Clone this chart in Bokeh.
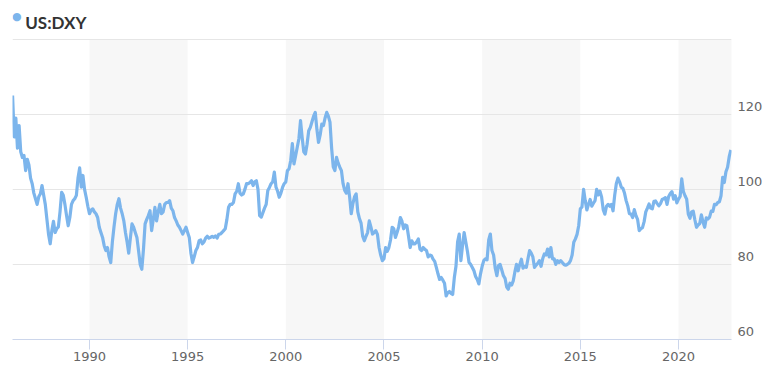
import pandas as pd
from bokeh.plotting import figure
from bokeh.models import FixedTicker, Label, Range1d, LinearAxis
from bokeh.embed import file_html
from bokeh.resources import INLINE

# ---- data (monthly US Dollar Index) ----
first_month = "1986-02-01"
dxy_1980s = [
    125, 114, 119, 111, 117, 110, 108.5, 109, 105, 108, 106.5,
    103, 101.5, 99, 97.5, 96, 98, 98.8, 101, 98.5, 96, 92, 88,
    85.5, 89, 91.5, 88.5, 89.5, 90, 94, 99.2, 98.4, 96, 93, 90.3,
    92.5, 96, 97, 97.5, 98.4, 103, 105.7, 100.6, 103.7, 100, 97.9, 95.5,
]
dxy_1990s = [
    93.5, 94.5, 94.8, 94, 93.5, 92.5, 89.9, 88.5, 87.2, 85, 83.7, 84.5,
    82, 80.5, 86, 90, 93.5, 96, 97.5, 95, 93.5, 91.6, 88.5, 86,
    83, 87, 90.8, 89.9, 88.5, 87.2, 83.7, 80, 78.7, 84, 90.8, 92,
    93, 94.3, 89, 92, 95.2, 91.6, 94, 96, 93.5, 94, 96, 96.5,
    96.5, 97, 95, 94.3, 92.5, 91.6, 90.5, 89.9, 89, 88.1, 89, 89.9,
    88.5, 87.2, 83, 80.5, 82, 83.7, 84.5, 86.3, 86.5, 85.5, 86, 87,
    87.5, 87, 87.2, 87.5, 87.2, 87.6, 87, 88, 88.1, 88.5, 89, 89.5,
    92, 95.2, 96, 96, 96.5, 98.8, 99.5, 101.5, 99, 98.5, 98.8, 100,
    101.5, 101.5, 101.8, 102.3, 101, 102, 102.3, 100, 93, 92.6, 93.8, 95,
    96, 99.7, 100.5, 101.5, 102, 104.6, 100.6, 99.5, 97.9, 99, 100.5, 101.5,
]
dxy_2000s = [
    102, 105, 105.5, 107.7, 112.2, 106.8, 109, 111.2, 113.5, 118.3, 113.8, 110,
    109.4, 112, 115.6, 116.5, 118, 119.5, 120.5, 116, 112.5, 114.5, 117.4, 117,
    119, 120.5, 119.5, 117.9, 111, 106, 105, 108.5, 107, 105.9, 105, 101.5,
    99.7, 99, 101.5, 98, 93.5, 96.2, 98, 98.8, 94, 92.2, 91, 87.5,
    86.3, 87.5, 88.5, 91.6, 90, 88.1, 88.5, 89, 88, 84.5, 82.5, 81,
    81.5, 84.5, 83.5, 84.5, 86.5, 89.9, 89.5, 87.2, 88.5, 90, 92.5, 91.5,
    89.5, 90.5, 90.3, 87.5, 84.5, 86.3, 85.5, 85.5, 86, 86.8, 84.1, 83.7,
    84.5, 84, 83.7, 82, 82.5, 82.3, 81.4, 80.8, 79.2, 77.5, 76, 76.5,
    75.8, 75, 71.6, 72.5, 72.8, 72.3, 72, 76.5, 79.5, 86, 88.1, 81,
    85, 88.5, 86, 83.5, 80.5, 80, 79.2, 78.3, 76.8, 76, 74.8, 77.5,
]
dxy_2010s = [
    79.5, 81, 81.5, 81.2, 86.5, 88.1, 83.7, 82.5, 79, 77, 79.7, 80,
    78.5, 77, 76.3, 74, 73.4, 75, 74.5, 75.6, 78, 80, 78.3, 80,
    81.4, 79, 79.5, 79.2, 81.5, 83.7, 83, 82, 79.2, 79.8, 80.3, 81,
    79.5, 81.5, 82.8, 82.5, 84.1, 82, 84.5, 81.5, 81.5, 80, 81, 80.5,
    81, 80.5, 80, 79.8, 80, 80.3, 81, 82.5, 85.9, 86.8, 88, 90.3,
    94.8, 95.3, 100, 97, 94.5, 96, 97.3, 95.5, 96.3, 97, 100, 98.5,
    99.5, 98, 94.6, 93.4, 95.5, 96, 95.5, 96, 94.3, 98.4, 101.5, 103,
    102, 100.6, 100.3, 99, 97, 95.6, 93.5, 93.4, 92.5, 94.6, 93, 92,
    89, 89.5, 89.8, 91.4, 94, 95, 96.1, 95, 94.8, 96.8, 96.9, 96.2,
    95.6, 96.2, 97.3, 97.5, 97.8, 96, 98.1, 98.9, 99.4, 97.4, 98.3, 96.4,
]
dxy_2020s = [
    97.4, 98.1, 102.8, 99.4, 98.3, 97.4, 93.4, 92.3, 94, 94.2, 91.9, 89.9,
    90.5, 90.9, 93.2, 91.3, 89.9, 92.4, 92.1, 92.6, 94.2, 94.1, 96, 95.9,
    96.5, 96.7, 98.3, 103.2, 101.8, 104.7, 105.9, 108.7, 110.5,
]

series_name = "US:DXY"
year_ticks = [1990, 1995, 2000, 2005, 2010, 2015, 2020]
grid_values = [60, 80, 100, 120, 140]
label_values = [60, 80, 100, 120]
band_starts = [1990, 2000, 2010, 2020]
band_ends = [1995, 2005, 2015, 2025]
y_min, y_max = 60, 140
x_min, x_max = 1986.08, 2022.70

dxy = dxy_1980s + dxy_1990s + dxy_2000s + dxy_2010s + dxy_2020s
dates = pd.date_range(first_month, periods=len(dxy), freq="MS")
xs = list(dates.year + (dates.month - 1) / 12.0)

LINE = "#7cb5ec"

# layout (pixels)
W, H = 770, 376
frame_left, frame_right, frame_bottom = 12, 731, 339
header_px = 38.7                     # space above the 140 grid line
plot_px = frame_bottom - header_px   # pixels for 60..140
units_per_px = (y_max - y_min) / plot_px
y_top = y_max + header_px * units_per_px
label_shift = 8 * units_per_px       # tick labels sit 8px above their grid line

p = figure(width=W, height=H, output_backend="svg", toolbar_location=None,
           x_range=Range1d(x_min, x_max), y_range=Range1d(y_min, y_top),
           y_axis_location=None,
           min_border_left=frame_left, min_border_right=W - frame_right,
           min_border_top=0, min_border_bottom=H - frame_bottom)
p.outline_line_color = None
p.background_fill_color = "white"
p.border_fill_color = "white"

# alternating bands
p.quad(left=band_starts, right=band_ends, bottom=y_min, top=y_max,
       fill_color="#f7f7f7", line_color=None, level="image")

p.line(xs, dxy, line_color=LINE, line_width=3.2, line_join="round")

# grids
p.xgrid.visible = False
p.ygrid.ticker = FixedTicker(ticks=grid_values)
p.ygrid.grid_line_color = "#e6e6e6"
p.ygrid.grid_line_width = 1

# x axis
xa = p.xaxis[0]
xa.ticker = FixedTicker(ticks=year_ticks)
xa.axis_line_color = "#ccd6eb"
xa.major_tick_line_color = "#ccd6eb"
xa.major_tick_in = 0
xa.major_tick_out = 10
xa.minor_tick_line_color = None
xa.major_label_text_color = "#666666"
xa.major_label_text_font = "DejaVu Sans"
xa.major_label_text_font_size = "13px"
xa.major_label_standoff = 2

# right value axis: labels placed just above their grid lines
p.extra_y_ranges = {"labels": Range1d(y_min - label_shift, y_top - label_shift)}
ya = LinearAxis(y_range_name="labels", ticker=FixedTicker(ticks=label_values))
ya.axis_line_color = None
ya.major_tick_line_color = None
ya.minor_tick_line_color = None
ya.major_tick_in = 0
ya.major_tick_out = 0
ya.major_label_standoff = 6
ya.major_label_text_color = "#666666"
ya.major_label_text_font = "DejaVu Sans"
ya.major_label_text_font_size = "13px"
p.add_layout(ya, "right")

# legend-like header
p.add_layout(Label(x=4.3, y=frame_bottom - 16, x_units="screen", y_units="screen",
                   text="\u25cf", text_align="center", text_baseline="middle",
                   text_color=LINE, text_font="DejaVu Sans", text_font_size="11px"))
p.add_layout(Label(x=12.7, y=frame_bottom - 21.7, x_units="screen", y_units="screen",
                   text=series_name, text_align="left", text_baseline="alphabetic",
                   text_color="#333333", text_font="Lato", text_font_style="bold",
                   text_font_size="17px"))

open("out.html", "w").write(file_html(p, INLINE))
